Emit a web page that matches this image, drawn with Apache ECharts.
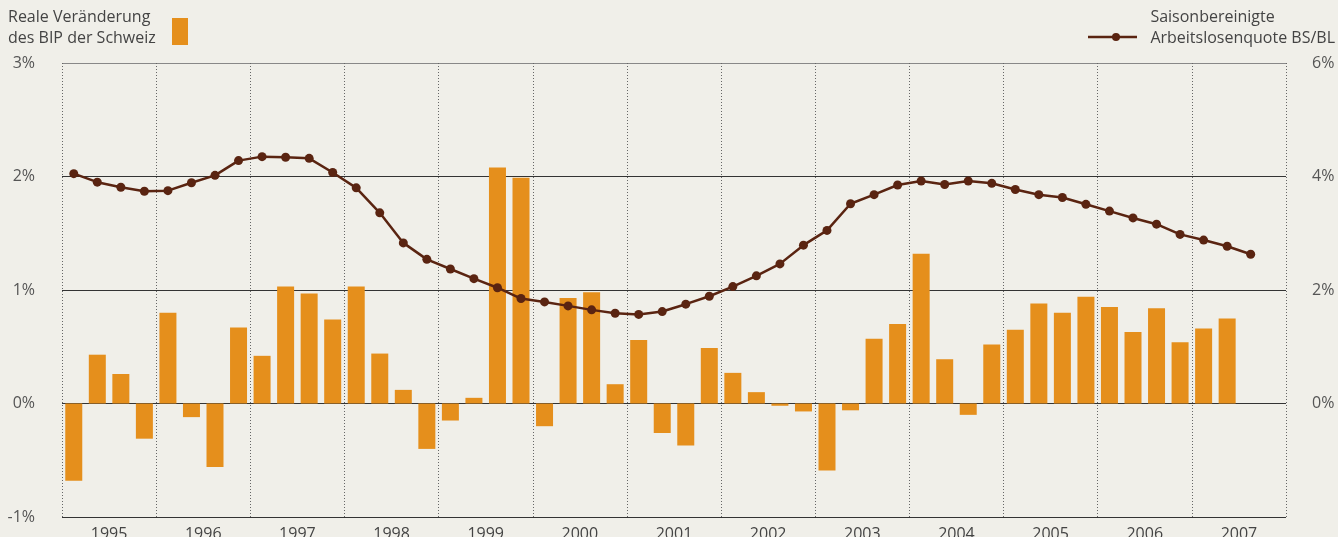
<!DOCTYPE html>
<html>
<head>
    <meta charset="utf-8">
    <title>BIP und Arbeitslosenquote</title>
    <script src="https://cdn.jsdelivr.net/npm/echarts@6/dist/echarts.min.js"></script>
    <style>
        html, body { margin: 0; padding: 0; background: #f0efe9; }
        #chart { width: 1338px; height: 537px; }
    </style>
</head>
<body>
<div id="chart"></div>
<script type="text/javascript">
    // Jahre (Achsenbeschriftung) und Quartale
    var years = ['1995', '1996', '1997', '1998', '1999', '2000', '2001', '2002', '2003', '2004', '2005', '2006', '2007'];
    var quarters = [];
    years.forEach(function (y) {
        for (var q = 1; q <= 4; q++) quarters.push(y + ' Q' + q);
    });

    // Reale Veränderung des BIP (%), 1995 Q1 - 2007 Q4
    var bip = [
        -0.68, 0.43, 0.26, -0.31,
        0.80, -0.12, -0.56, 0.67,
        0.42, 1.03, 0.97, 0.74,
        1.03, 0.44, 0.12, -0.40,
        -0.15, 0.05, 2.08, 1.99,
        -0.20, 0.93, 0.98, 0.17,
        0.56, -0.26, -0.37, 0.49,
        0.27, 0.10, -0.02, -0.07,
        -0.59, -0.06, 0.57, 0.70,
        1.32, 0.39, -0.10, 0.52,
        0.65, 0.88, 0.80, 0.94,
        0.85, 0.63, 0.84, 0.54,
        0.66, 0.75, null, null
    ];

    // Saisonbereinigte Arbeitslosenquote BS/BL (%)
    var alq = [
        4.05, 3.90, 3.81, 3.74,
        3.75, 3.89, 4.02, 4.28,
        4.35, 4.34, 4.32, 4.07,
        3.80, 3.36, 2.83, 2.54,
        2.37, 2.20, 2.04, 1.85,
        1.79, 1.72, 1.65, 1.59,
        1.57, 1.62, 1.75, 1.89,
        2.06, 2.25, 2.46, 2.79,
        3.05, 3.52, 3.68, 3.85,
        3.92, 3.86, 3.92, 3.88,
        3.77, 3.68, 3.63, 3.51,
        3.39, 3.27, 3.16, 2.98,
        2.88, 2.77, 2.63, null
    ];

    var FONT = "'Open Sans', 'Noto Sans', sans-serif";
    var ORANGE = '#e58f1c';
    var BROWN = '#5a2411';

    var myChart = echarts.init(document.getElementById('chart'));

    myChart.setOption({
        backgroundColor: '#f0efe9',
        animation: false,
        textStyle: { fontFamily: FONT },
        grid: { left: 62, right: 52, top: 63, bottom: 20, containLabel: false, outerBoundsMode: 'none' },
        xAxis: [
            {
                type: 'category',
                data: quarters,
                boundaryGap: true,
                axisLine: { show: false },
                axisTick: { show: false },
                axisLabel: { show: false },
                splitLine: { show: false }
            },
            {
                type: 'category',
                data: years,
                boundaryGap: true,
                position: 'bottom',
                axisLine: { show: false },
                axisTick: { show: false },
                axisLabel: { color: '#444', fontSize: 16, margin: 9, fontFamily: FONT },
                splitLine: { show: true, lineStyle: { color: '#666', type: [1, 2], width: 1 } }
            }
        ],
        yAxis: [
            {
                type: 'value',
                min: -1,
                max: 3,
                interval: 1,
                axisLine: { show: false },
                axisTick: { show: false },
                axisLabel: { color: '#555', fontSize: 16, margin: 27, formatter: '{value}%', fontFamily: FONT },
                splitLine: { lineStyle: { color: ['#333', '#333', '#333', '#333', '#888'], width: 1.2 } }
            },
            {
                type: 'value',
                min: -2,
                max: 6,
                interval: 2,
                position: 'right',
                axisLine: { show: false },
                axisTick: { show: false },
                splitLine: { show: false },
                axisLabel: {
                    color: '#555', fontSize: 16, margin: 26, fontFamily: FONT,
                    formatter: function (v) { return v < 0 ? '' : v + '%'; }
                }
            }
        ],
        graphic: [
            { type: 'text', left: 8, top: 7, style: { text: 'Reale Veränderung\ndes BIP der Schweiz', fill: '#444', font: '16px ' + FONT, lineHeight: 21 } },
            { type: 'rect', left: 172, top: 18, shape: { width: 16, height: 27 }, style: { fill: ORANGE } },
            { type: 'text', right: 3, top: 7, style: { text: 'Saisonbereinigte\nArbeitslosenquote BS/BL', fill: '#444', font: '16px ' + FONT, lineHeight: 21, align: 'right' } },
            { type: 'line', shape: { x1: 1088, y1: 37, x2: 1137, y2: 37 }, style: { stroke: BROWN, lineWidth: 2.5 } },
            { type: 'circle', shape: { cx: 1116, cy: 37, r: 4 }, style: { fill: BROWN } }
        ],
        series: [
            {
                name: 'Reale Veränderung des BIP der Schweiz',
                type: 'bar',
                xAxisIndex: 0,
                yAxisIndex: 0,
                data: bip,
                barWidth: 17,
                itemStyle: { color: ORANGE }
            },
            {
                name: 'Saisonbereinigte Arbeitslosenquote BS/BL',
                type: 'line',
                xAxisIndex: 0,
                yAxisIndex: 1,
                data: alq,
                symbol: 'circle',
                symbolSize: 9,
                lineStyle: { color: BROWN, width: 2.5 },
                itemStyle: { color: BROWN },
                z: 5
            }
        ]
    });
</script>
</body>
</html>
